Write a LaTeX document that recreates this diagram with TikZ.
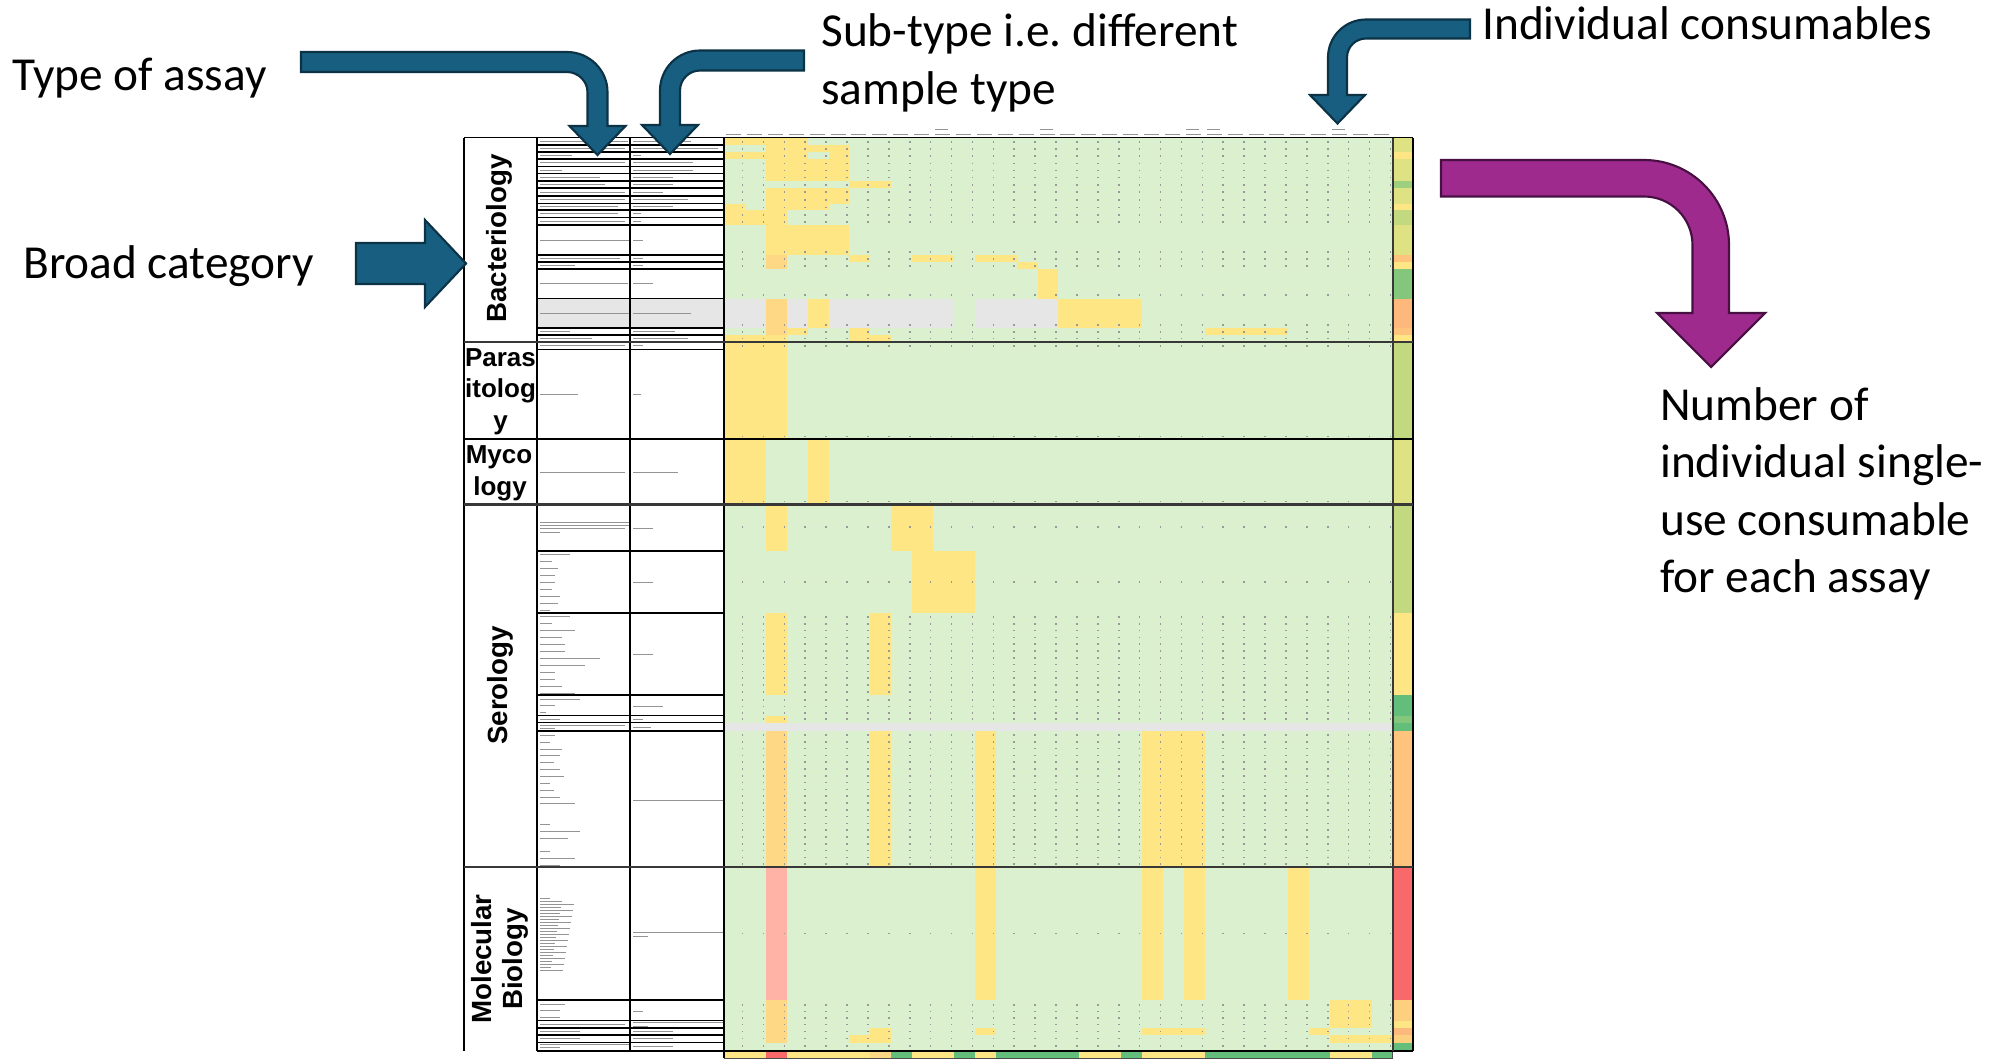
\documentclass[tikz,border=0pt]{standalone}
\usepackage{fontspec}
\setmainfont{Carlito}
\newfontfamily\catfont{Liberation Sans}
\frenchspacing

\definecolor{cellgreen}{RGB}{218,240,207}
\definecolor{cellyellow}{RGB}{255,230,132}
\definecolor{cellorange}{RGB}{255,216,134}
\definecolor{cellgrey}{RGB}{230,230,230}
\definecolor{cellpink}{RGB}{255,179,167}
\definecolor{totolive}{RGB}{223,226,131}
\definecolor{totlime}{RGB}{195,217,128}
\definecolor{totmid}{RGB}{156,207,126}
\definecolor{totgreen}{RGB}{132,199,124}
\definecolor{totdark}{RGB}{99,190,123}
\definecolor{totorange}{RGB}{253,185,123}
\definecolor{totpeach}{RGB}{254,196,125}
\definecolor{totlight}{RGB}{253,208,127}
\definecolor{totred}{RGB}{248,105,107}
\definecolor{arrowblue}{RGB}{24,94,128}
\definecolor{arrowblueedge}{RGB}{12,50,70}
\definecolor{arrowpurple}{RGB}{158,42,142}
\definecolor{arrowpurpleedge}{RGB}{72,16,66}

% data cells: first column, last column, top, bottom, colour
\newcommand{\cellrun}[5]{\fill[#5] ({724+#1*20.9},#3) rectangle ({724+(#2+1)*20.9},#4);}
\newcommand{\totcell}[3]{\fill[#3] (1392.8,#1) rectangle (1413,#2);}
\newcommand{\dotline}[1]{\foreach \k in {1,...,32}{\fill[black!40] ({724+\k*20.9-3.2},#1-0.8) rectangle ++(1.6,1.6);}\fill[black!40] (1409,#1-0.8) rectangle ++(1.6,1.6);}
\newcommand{\txtrule}[3]{\draw[txtline] (#1,#2) -- ++(#3,0);}

\begin{document}
\begin{tikzpicture}[x=0.75pt,y=0.75pt,yscale=-1,xscale=1,
  txtline/.style={black!42,line width=0.75pt},
  gridline/.style={black,line width=1pt},
  sectline/.style={black!78,line width=1.8pt},
  bluearrow/.style={fill=arrowblue,draw=arrowblueedge,line width=1.6pt},
  purplearrow/.style={fill=arrowpurple,draw=arrowpurpleedge,line width=1.6pt},
  lbl/.style={inner sep=0pt,font=\fontsize{35.5}{43}\selectfont},
  catlbl/.style={inner sep=0pt,font=\catfont\bfseries\fontsize{20.8}{23.6}\selectfont},
  catrow/.style={inner sep=0pt,anchor=base,font=\catfont\bfseries\fontsize{19.5}{23.6}\selectfont}]

\useasboundingbox (0,0) rectangle (2011,1060);
\fill[white] (0,0) rectangle (2011,1060);

%Shape: data area background
\fill[cellgreen] (724,137.5) rectangle (1392.8,1051);

% Bacteriology cells
\cellrun{0}{3}{137.5}{145}{cellyellow}
\cellrun{2}{5}{145}{152}{cellyellow}
\cellrun{0}{3}{152}{159}{cellyellow}
\cellrun{5}{5}{152}{159}{cellyellow}
\cellrun{2}{5}{159}{181}{cellyellow}
\cellrun{6}{7}{181}{188}{cellyellow}
\cellrun{2}{5}{188}{203.5}{cellyellow}
\cellrun{0}{0}{203.5}{210}{cellyellow}
\cellrun{2}{4}{203.5}{210}{cellyellow}
\cellrun{0}{2}{210}{225}{cellyellow}
\cellrun{2}{5}{225}{255}{cellyellow}
\cellrun{2}{2}{255}{269}{cellorange}
\cellrun{6}{6}{255}{262}{cellyellow}
\cellrun{9}{10}{255}{262}{cellyellow}
\cellrun{12}{13}{255}{262}{cellyellow}
\cellrun{14}{14}{262}{269}{cellyellow}
\cellrun{15}{15}{269}{298.5}{cellyellow}
\cellrun{0}{1}{298.5}{328}{cellgrey}
\cellrun{2}{2}{298.5}{335}{cellorange}
\cellrun{3}{3}{298.5}{328}{cellgrey}
\cellrun{4}{4}{298.5}{328}{cellyellow}
\cellrun{5}{10}{298.5}{328}{cellgrey}
\cellrun{12}{15}{298.5}{328}{cellgrey}
\cellrun{16}{19}{298.5}{328}{cellyellow}
\cellrun{3}{3}{328}{335}{cellyellow}
\cellrun{6}{6}{328}{335}{cellyellow}
\cellrun{23}{26}{328}{335}{cellyellow}
\cellrun{0}{2}{335}{342}{cellyellow}
\cellrun{6}{7}{335}{342}{cellyellow}
% Parasitology and Mycology cells
\cellrun{0}{2}{342}{439}{cellyellow}
\cellrun{0}{1}{439}{504.5}{cellyellow}
\cellrun{4}{4}{439}{504.5}{cellyellow}
% Serology cells
\cellrun{2}{2}{504.5}{551}{cellyellow}
\cellrun{8}{9}{504.5}{551}{cellyellow}
\cellrun{9}{11}{551}{613}{cellyellow}
\cellrun{2}{2}{613}{695}{cellyellow}
\cellrun{7}{7}{613}{695}{cellyellow}
\cellrun{2}{2}{715.5}{722.5}{cellyellow}
\cellrun{0}{31}{722.5}{731}{cellgrey}
\cellrun{2}{2}{731}{867}{cellorange}
\cellrun{7}{7}{731}{867}{cellyellow}
\cellrun{12}{12}{731}{867}{cellyellow}
\cellrun{20}{22}{731}{867}{cellyellow}
% Molecular Biology cells
\cellrun{2}{2}{867}{1000}{cellpink}
\cellrun{12}{12}{867}{1000}{cellyellow}
\cellrun{20}{20}{867}{1000}{cellyellow}
\cellrun{22}{22}{867}{1000}{cellyellow}
\cellrun{27}{27}{867}{1000}{cellyellow}
\cellrun{2}{2}{1000}{1042.5}{cellorange}
\cellrun{29}{30}{1000}{1028}{cellyellow}
\cellrun{7}{7}{1028}{1042.5}{cellyellow}
\cellrun{12}{12}{1028}{1035}{cellyellow}
\cellrun{20}{22}{1028}{1035}{cellyellow}
\cellrun{28}{28}{1028}{1035}{cellyellow}
\cellrun{6}{6}{1035}{1042.5}{cellyellow}
\cellrun{29}{31}{1035}{1042.5}{cellyellow}

% values in the cells
\foreach \yy in {141.7,149,156,163.3,170.3,177.3,184.7,192,200,207.3,214.7,222,252,258.7,265.7,295,325,331.7,338.3,346,436.5,501.5,527,582,700,706.5,713,719,933.5,1005,1011.5,1018,1024.5,1031.5,1038.5,1046}{\dotline{\yy}}
\foreach \i in {0,...,11}{\dotline{617+6.8*\i}}
\foreach \i in {0,...,19}{\dotline{735+6.8*\i}}

% totals column
\totcell{137.5}{152}{totolive}
\totcell{152}{159}{cellyellow}
\totcell{159}{181}{totolive}
\totcell{181}{188}{totmid}
\totcell{188}{203.5}{totolive}
\totcell{203.5}{210}{cellyellow}
\totcell{210}{225}{totlime}
\totcell{225}{255}{totolive}
\totcell{255}{262}{totpeach}
\totcell{262}{269}{cellyellow}
\totcell{269}{298.5}{totgreen}
\totcell{298.5}{328}{totorange}
\totcell{328}{335}{totpeach}
\totcell{335}{342}{cellyellow}
\totcell{342}{439}{totlime}
\totcell{439}{504.5}{totolive}
\totcell{504.5}{613}{totlime}
\totcell{613}{695}{cellyellow}
\totcell{695}{715.5}{totdark}
\totcell{715.5}{722.5}{totgreen}
\totcell{722.5}{731}{totdark}
\totcell{731}{867}{totpeach}
\totcell{867}{1000}{totred}
\totcell{1000}{1020.5}{totlight}
\totcell{1020.5}{1028}{cellyellow}
\totcell{1028}{1035}{totorange}
\totcell{1035}{1042.5}{totlight}
\totcell{1042.5}{1051}{totdark}

% summary row
\cellrun{0}{1}{1051}{1058}{cellyellow}
\cellrun{2}{2}{1051}{1058}{totred}
\cellrun{3}{6}{1051}{1058}{cellyellow}
\cellrun{7}{7}{1051}{1058}{cellorange}
\cellrun{8}{8}{1051}{1058}{totdark}
\cellrun{9}{10}{1051}{1058}{cellyellow}
\cellrun{11}{11}{1051}{1058}{totdark}
\cellrun{12}{12}{1051}{1058}{cellyellow}
\cellrun{13}{16}{1051}{1058}{totdark}
\cellrun{17}{18}{1051}{1058}{cellyellow}
\cellrun{19}{19}{1051}{1058}{totdark}
\cellrun{20}{22}{1051}{1058}{cellyellow}
\cellrun{23}{28}{1051}{1058}{totdark}
\cellrun{29}{30}{1051}{1058}{cellyellow}
\cellrun{31}{31}{1051}{1058}{totdark}
\draw[black!70,line width=0.6pt] (724,1051) rectangle (1392.8,1058);

% grey row in the left columns
\fill[cellgrey] (537,298.5) rectangle (724,328);

% header labels of the consumables
\foreach \k in {0,...,31}{\draw[txtline,line width=0.4pt] ({724+\k*20.9+2},134) -- ++(15,0);}
\foreach \k in {10,15,22,23,29}{\draw[txtline,line width=0.4pt] ({724+\k*20.9+2},129.5) -- ++(13,0);}

% texts of the type and sub-type columns
\foreach \yy/\la/\lb in {141.2/88/58,148.5/85/85,155.5/32/8,162.7/85/60,170/22/60,177.2/60/40,184.5/65/40,192/85/30,199.7/85/55,206.7/78/40,213.7/78/8,221.2/85/8,240/90/10,258.5/80/10,265.5/35/10,283.7/88/20,313.2/90/58,331.5/30/42,338.5/52/55,345.7/85/10,394/38/8,472/85/45}{\txtrule{540}{\yy}{\la}\txtrule{633}{\yy}{\lb}}
\foreach \yy/\la in {522/90,525/90,528/85,532/20,554/30,561/12,568/18,575/15,582/15,589/12,596/20,603/18,610/10,616.5/30,623.5/12,630.5/35,637.5/22,644.5/25,651.5/25,658.5/60,665.5/45,672.5/15,679.5/15,686.5/22,693/35,699/40,705.5/15,712/6,719/20,725/85,728/15,735/15,742/10,749/22,755/20,762/14,769/20,776/24,783/10,790/14,797/20,803/35,824/10,831/40,838/28,851/10,858/35,865/20,1004/25,1010.5/20,1017/20,1024/85,1031.5/40,1038.5/40,1044/90,1047.5/20}{\txtrule{540}{\yy}{\la}}
\foreach \i in {0,...,24}{\pgfmathsetmacro{\ll}{10+mod(\i*37,25)}\txtrule{540}{898+3*\i}{\ll}}
\foreach \yy/\lb in {528/20,582/20,654/20,706/30,719/10,727/18,800/90,932/90,936/15,1011/10,1022/90,1026/15,1031.5/40,1038.5/40,1046/40}{\txtrule{633}{\yy}{\lb}}

%Straight Lines: grid of the left columns
\foreach \yy in {145,152,159,166.5,173.5,181,188,196,203.5,210,217.5,225,255,262,269,298.5,328,335,349.5,551,613,695,715.5,722.5,731,1000,1020.5,1028,1035,1042.5}{\draw[gridline] (537,\yy) -- (724,\yy);}
\draw[gridline] (537,1051) -- (1413,1051);
\draw[gridline] (537,137.5) -- (537,1051);
\draw[gridline] (630,137.5) -- (630,1051);
\draw[gridline] (724,137.5) -- (724,1058);
\draw[sectline] (1392.8,137.5) -- (1392.8,1051);
\draw[gridline,line width=1.4pt] (1413,137.5) -- (1413,1051);
\draw[gridline,line width=1.4pt] (464,137.5) -- (1413,137.5);
\draw[gridline,line width=1.4pt] (464,137.5) -- (464,1051);
%Straight Lines: section breaks
\draw[sectline] (464,342) -- (1413,342);
\draw[gridline,line width=1.3pt] (464,439) -- (1413,439);
\draw[sectline] (464,504.5) -- (1413,504.5);
\draw[sectline] (464,867) -- (1413,867);

% Text Node: categories
\node[catlbl,rotate=90] (bacterio) at (499.5,238.5) {Bacteriology};
\node[catrow] (paras1) at (500.5,366) {Paras};
\node[catrow] (paras2) at (500.5,397.5) {itolog};
\node[catrow] (paras3) at (500.5,429) {y};
\node[catrow] (myco1) at (499,463.5) {Myco};
\node[catrow] (myco2) at (500,495) {logy};
\node[catlbl,rotate=90] (serology) at (500,685.5) {Serology};
\node[catlbl,rotate=90,align=center] (molbio) at (500,959) {Molecular\\Biology};

%Shape: Bent Arrow (type of assay)
\draw[bluearrow] (301,52) -- (567,52) .. controls (589.1,52) and (607.5,69.9) .. (607.5,92) -- (607.5,126) -- (625.5,126) -- (597.5,155) -- (569.5,126) -- (587.5,126) -- (587.5,92) .. controls (587.5,81) and (578,72) .. (567,72) -- (301,72) -- cycle;
%Shape: Bent Arrow (sub-type)
\draw[bluearrow] (804,50.5) -- (700,50.5) .. controls (677.9,50.5) and (660,68.4) .. (660,90.5) -- (660,125) -- (642,125) -- (670,154) -- (698,125) -- (680,125) -- (680,90.5) .. controls (680,79.5) and (689,70.5) .. (700,70.5) -- (804,70.5) -- cycle;
%Shape: Bent Arrow (consumables)
\draw[bluearrow] (1470,19.5) -- (1366,19.5) .. controls (1345,19.5) and (1328,36.5) .. (1328,57.5) -- (1328,95) -- (1310,95) -- (1337.5,123.5) -- (1365,95) -- (1347,95) -- (1347,57.5) .. controls (1347,47) and (1355.5,38.5) .. (1366,38.5) -- (1470,38.5) -- cycle;
%Shape: Right Arrow (broad category)
\draw[bluearrow] (356,243) -- (425,243) -- (425,220) -- (466,263.5) -- (425,307) -- (425,284) -- (356,284) -- cycle;
%Shape: Bent Arrow (number of consumables)
\draw[purplearrow] (1441,160) -- (1644,160) .. controls (1690.9,160) and (1729,198.1) .. (1729,245) -- (1729,313) -- (1765,313) -- (1711,367) -- (1657,313) -- (1692.5,313) -- (1692.5,245) .. controls (1692.5,218.2) and (1670.8,196.5) .. (1644,196.5) -- (1441,196.5) -- cycle;

% Text Node
\node[lbl,anchor=base west] (typeassay) at (12,90) {Type of assay};
% Text Node
\node[lbl,anchor=base west] (broadcat) at (23,278) {Broad category};
% Text Node
\node[lbl,anchor=base west] (subtypeA) at (821,46.5) {Sub-type i.e. different};
\node[lbl,anchor=base west] (subtypeB) at (821,104) {sample type};
% Text Node
\node[lbl,anchor=base west] (indcons) at (1482,39.5) {Individual consumables};
% Text Node
\node[lbl,anchor=base west] (numberA) at (1660,420) {Number of};
\node[lbl,anchor=base west] (numberB) at (1660,477) {individual single-};
\node[lbl,anchor=base west] (numberC) at (1660,535) {use consumable};
\node[lbl,anchor=base west] (numberD) at (1660,592) {for each assay};

\end{tikzpicture}
\end{document}
